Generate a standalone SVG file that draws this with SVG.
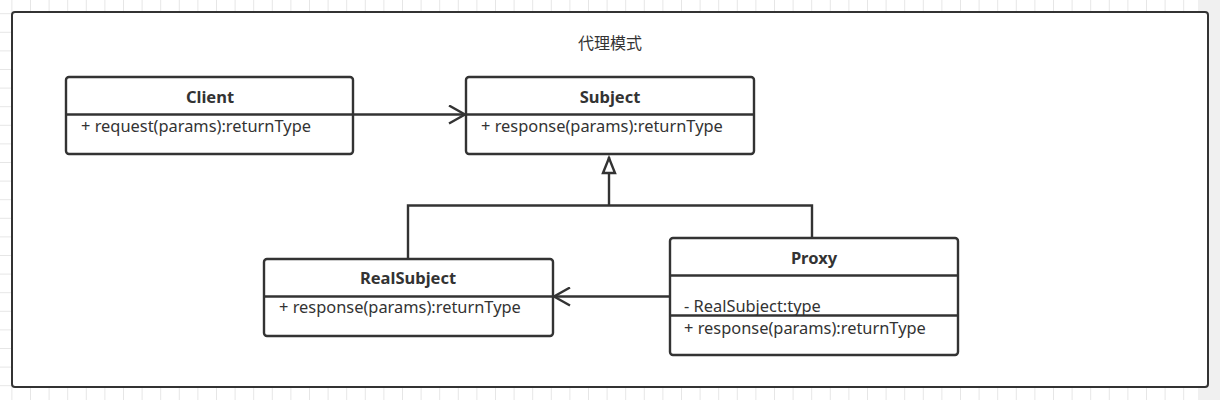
<svg xmlns="http://www.w3.org/2000/svg" width="1220" height="400" viewBox="0 0 1220 400">
<defs>
<pattern id="grid" x="11.4" y="13.2" width="18.6" height="18.6" patternUnits="userSpaceOnUse">
<path d="M0 0.5H18.6M0.5 0V18.6" fill="none" stroke="#e6e6e6" stroke-width="1"/>
</pattern>
<marker id="open" viewBox="0 0 20 20" refX="18" refY="10" markerWidth="20" markerHeight="20" markerUnits="userSpaceOnUse" orient="auto">
<path d="M2 1L18 10L2 19" fill="none" stroke="#333" stroke-width="2.4"/>
</marker>
<marker id="tri" viewBox="0 0 20 20" refX="18" refY="10" markerWidth="20" markerHeight="20" markerUnits="userSpaceOnUse" orient="auto">
<path d="M2 4L17 10L2 16Z" fill="#fff" stroke="#333" stroke-width="2.4"/>
</marker>
</defs>
<style>
.box{fill:#fff;stroke:#333;stroke-width:2.4}
.div{stroke:#333;stroke-width:2.4}
.t{font-family:"Noto Sans","Open Sans",sans-serif;font-size:16.5px;font-weight:bold;fill:#333;text-anchor:middle}
.m{font-family:"Noto Sans","Open Sans",sans-serif;font-size:16.4px;fill:#333}
.c{fill:none;stroke:#333;stroke-width:2.4}
</style>
<rect width="1220" height="400" fill="#fff"/>
<rect width="1220" height="400" fill="url(#grid)"/>
<rect x="1198" y="0" width="22" height="400" fill="#f0f0f0"/>
<g id="frame">
<rect x="12" y="12" width="1196" height="375" rx="3" fill="#fff" stroke="#333" stroke-width="2"/>
<text x="610" y="49" font-family="'Noto Sans CJK SC','Noto Sans',sans-serif" font-size="16" fill="#333" text-anchor="middle">代理模式</text>
</g>
<g id="client">
<rect class="box" x="66" y="77" width="287" height="77" rx="3"/>
<line class="div" x1="66" y1="114.5" x2="353" y2="114.5"/>
<text class="t" x="210" y="103">Client</text>
<text class="m" x="81" y="132">+ request(params):returnType</text>
</g>
<g id="subject">
<rect class="box" x="466" y="77" width="288" height="77" rx="3"/>
<line class="div" x1="466" y1="114.5" x2="754" y2="114.5"/>
<text class="t" x="610" y="103">Subject</text>
<text class="m" x="481" y="132">+ response(params):returnType</text>
</g>
<g id="realsubject">
<rect class="box" x="264" y="259" width="289" height="77" rx="3"/>
<line class="div" x1="264" y1="296.5" x2="553" y2="296.5"/>
<text class="t" x="408" y="284">RealSubject</text>
<text class="m" x="279" y="313">+ response(params):returnType</text>
</g>
<g id="proxy">
<rect class="box" x="670" y="238" width="288" height="117" rx="3"/>
<line class="div" x1="670" y1="275.5" x2="958" y2="275.5"/>
<line class="div" x1="670" y1="315.5" x2="958" y2="315.5"/>
<text class="t" x="814" y="264">Proxy</text>
<text class="m" x="684" y="311.5">- RealSubject:type</text>
<text class="m" x="684" y="334">+ response(params):returnType</text>
</g>
<g id="connectors">
<line class="c" x1="353" y1="114.5" x2="465" y2="114.5" marker-end="url(#open)"/>
<line class="c" x1="670" y1="296.5" x2="554" y2="296.5" marker-end="url(#open)"/>
<polyline class="c" points="408,259 408,205.5 812,205.5 812,238"/>
<line class="c" x1="609" y1="205.5" x2="609" y2="157" marker-end="url(#tri)"/>
</g>
</svg>
